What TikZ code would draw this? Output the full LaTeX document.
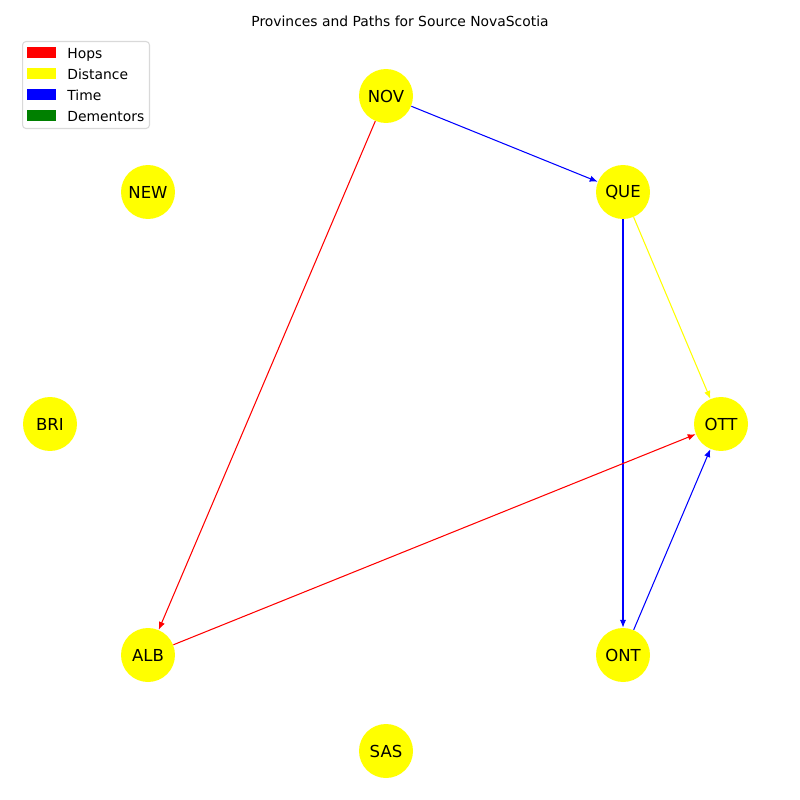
\documentclass[tikz,border=0pt]{standalone}
\usepackage{fontspec}
\setmainfont{DejaVu Sans}
\usetikzlibrary{arrows.meta}
\definecolor{yel}{RGB}{255,255,0}
\definecolor{rd}{RGB}{255,0,0}
\definecolor{bl}{RGB}{0,0,255}
\definecolor{gr}{RGB}{0,128,0}
\begin{document}
\begin{tikzpicture}[x=0.02cm,y=-0.02cm,
  prov/.style={circle,fill=yel,minimum size=1.08cm,inner sep=0pt,font=\fontsize{9.4}{10}\selectfont},
  edge/.style={line width=0.6pt,-{Latex[length=4.5pt,width=3.6pt]}},
  leg/.style={anchor=base west,font=\fontsize{7.9}{9}\selectfont,inner sep=0pt},
  patch/.style={minimum width=0.57cm,minimum height=0.22cm,inner sep=0pt}]
\useasboundingbox[fill=white] (0,0) rectangle (800,800);
\node[font=\fontsize{7.9}{9}\selectfont] (title) at (400,21) {Provinces and Paths for Source NovaScotia};
\node[prov] (NOV) at (386,96) {NOV};
\node[prov] (QUE) at (623,192) {QUE};
\node[prov] (OTT) at (721,424) {OTT};
\node[prov] (ONT) at (623,655) {ONT};
\node[prov] (SAS) at (386,751) {SAS};
\node[prov] (ALB) at (148,655) {ALB};
\node[prov] (BRI) at (50,424) {BRI};
\node[prov] (NEW) at (148,192) {NEW};
\draw[edge,bl] (NOV) -- (QUE);
\draw[edge,rd] (NOV) -- (ALB);
\draw[edge,yel] (QUE) -- (OTT);
\draw[edge,bl] (QUE) -- (ONT);
\draw[edge,bl] (ONT) -- (OTT);
\draw[edge,rd] (ALB) -- (OTT);
\node[draw=black!15,rounded corners=2pt,line width=0.6pt,minimum width=2.54cm,minimum height=1.74cm,anchor=north west,inner sep=0pt] (legend) at (22,41) {};
\node[patch,fill=rd] (p1) at (41.5,53) {};
\node[patch,fill=yel] (p2) at (41.5,74) {};
\node[patch,fill=bl] (p3) at (41.5,95) {};
\node[patch,fill=gr] (p4) at (41.5,116) {};
\node[leg] (l1) at (67,59) {Hops};
\node[leg] (l2) at (67,80) {Distance};
\node[leg] (l3) at (67,101) {Time};
\node[leg] (l4) at (67,122) {Dementors};
\end{tikzpicture}
\end{document}
